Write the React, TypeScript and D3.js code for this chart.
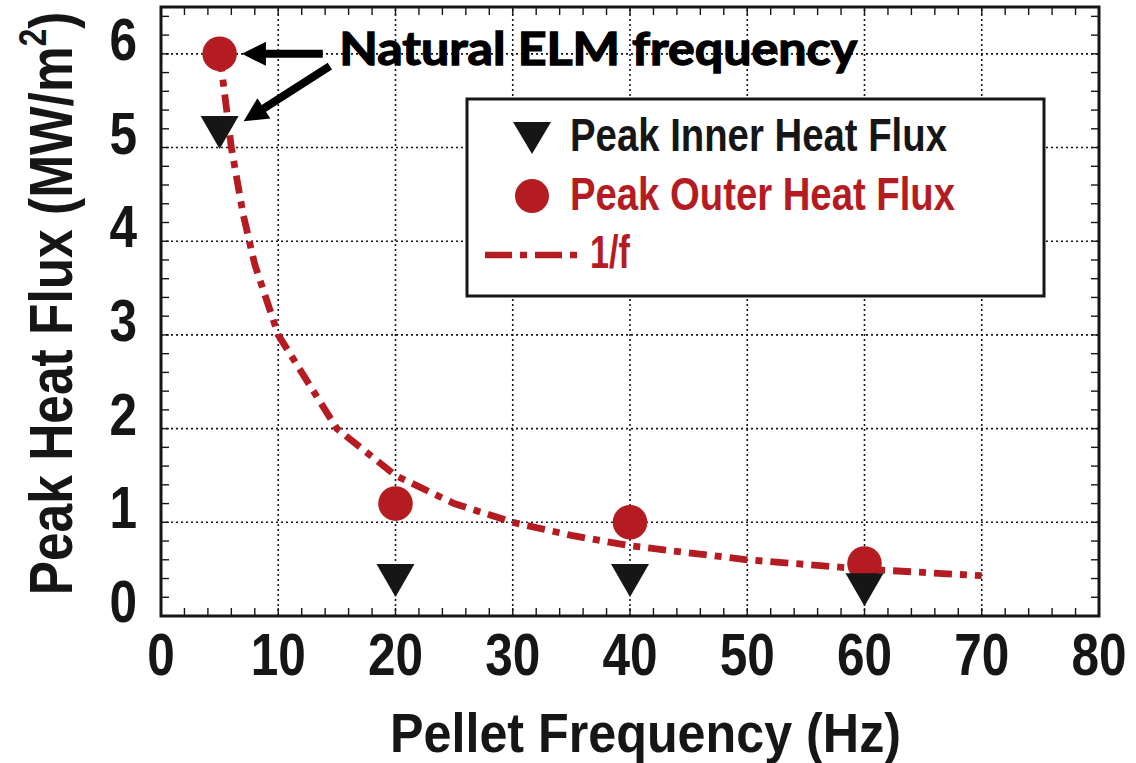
import React from "react";
import * as d3 from "d3";

// Pellet-pacing measurements: peak divertor heat flux vs pellet frequency
const pelletFreq = [5, 20, 40, 60];
const innerPeakFlux = [5.16, 0.38, 0.38, 0.28];
const outerPeakFlux = [6.0, 1.2, 1.0, 0.56];

// 1/f reference curve, sampled along its drawn path
const fitFreq = [5, 6, 7, 8, 10, 15, 20, 25, 30, 35, 40, 50, 60, 70];
const fitFlux = [6.0, 5.0, 4.29, 3.75, 3.0, 2.0, 1.5, 1.2, 1.0, 0.86, 0.75, 0.6, 0.5, 0.43];

const xTicks = [0, 10, 20, 30, 40, 50, 60, 70, 80];
const yTicks = [0, 1, 2, 3, 4, 5, 6];

// Annotation arrows pointing at the natural-ELM points (data units)
const elmArrows = [
  { from: [13.8, 6.0], to: [6.9, 6.0] },
  { from: [14.4, 5.87], to: [7.05, 5.28] },
];
const elmLabelAt = [15.2, 5.88];

const W = 1136;
const H = 763;
const RED = "#b51c21";
const INK = "#161616";
const SANS = "'Liberation Sans', Arial, sans-serif";

const x = d3.scaleLinear().domain([0, 80]).range([161, 1099]);
const y = d3.scaleLinear().domain([0, 6.5]).range([616, 7]);

function arrowPolygon(x1: number, y1: number, x2: number, y2: number, shaft: number, headLen: number, headW: number) {
  const dx = x2 - x1;
  const dy = y2 - y1;
  const len = Math.hypot(dx, dy);
  const ux = dx / len;
  const uy = dy / len;
  const px = -uy;
  const py = ux;
  const bx = x2 - ux * headLen;
  const by = y2 - uy * headLen;
  const pts = [
    [x1 + px * shaft / 2, y1 + py * shaft / 2],
    [bx + px * shaft / 2, by + py * shaft / 2],
    [bx + px * headW / 2, by + py * headW / 2],
    [x2, y2],
    [bx - px * headW / 2, by - py * headW / 2],
    [bx - px * shaft / 2, by - py * shaft / 2],
    [x1 - px * shaft / 2, y1 - py * shaft / 2],
  ];
  return "M" + pts.map((p) => p.join(",")).join("L") + "Z";
}

function triangleDown(cx: number, cy: number, w: number, h: number) {
  return `M${cx - w / 2},${cy - h / 2}L${cx + w / 2},${cy - h / 2}L${cx},${cy + h / 2}Z`;
}

export default function App() {
  const fitPoints: [number, number][] = fitFreq.map((f, i) => [f, fitFlux[i]]);
  const fitLine = d3
    .line<[number, number]>()
    .x((d) => x(d[0]))
    .y((d) => y(d[1]))
    .curve(d3.curveLinear)(fitPoints);

  const xMinor = d3.range(0, 80.001, 2);
  const yMinor = d3.range(0, 6.5, 0.2);
  const [x0, x1] = x.range();
  const [y0, y1] = y.range();
  const tickLen = 8;

  return (
    <svg
      width={W}
      height={H}
      viewBox={`0 0 ${W} ${H}`}
      style={{ position: "absolute", left: 0, top: 0, background: "#fff" }}
    >
      {/* grid */}
      <g stroke={INK} strokeWidth={1.6} strokeDasharray="2 3">
        {xTicks.slice(1, -1).map((t) => (
          <line key={"gx" + t} x1={x(t)} x2={x(t)} y1={y0} y2={y1} />
        ))}
        {yTicks.slice(1).map((t) => (
          <line key={"gy" + t} x1={x0} x2={x1} y1={y(t)} y2={y(t)} />
        ))}
      </g>

      {/* minor ticks on all four sides, pointing inward */}
      <g stroke={INK} strokeWidth={1.4}>
        {xMinor.map((t) => (
          <g key={"tx" + t}>
            <line x1={x(t)} x2={x(t)} y1={y0} y2={y0 - tickLen} />
            <line x1={x(t)} x2={x(t)} y1={y1} y2={y1 + tickLen} />
          </g>
        ))}
        {yMinor.map((t) => (
          <g key={"ty" + t}>
            <line x1={x0} x2={x0 + tickLen} y1={y(t)} y2={y(t)} />
            <line x1={x1} x2={x1 - tickLen} y1={y(t)} y2={y(t)} />
          </g>
        ))}
      </g>

      {/* frame */}
      <rect x={x0} y={y1} width={x1 - x0} height={y0 - y1} fill="none" stroke={INK} strokeWidth={3} />

      {/* tick labels */}
      <g fill={INK} fontFamily={SANS} fontWeight="bold" fontSize={59}>
        {xTicks.map((t) => (
          <text key={"lx" + t} transform={`translate(${x(t)},675) scale(0.84,1)`} textAnchor="middle">
            {t}
          </text>
        ))}
        {yTicks.map((t) => (
          <text key={"ly" + t} transform={`translate(137,${y(t) + 6}) scale(0.84,1)`} textAnchor="end">
            {t}
          </text>
        ))}
      </g>

      {/* axis titles */}
      <text
        x={645.5}
        y={752}
        textAnchor="middle"
        fill={INK}
        fontFamily={SANS}
        fontWeight="bold"
        fontSize={56}
        textLength={511}
        lengthAdjust="spacingAndGlyphs"
      >
        Pellet Frequency (Hz)
      </text>
      <g transform="translate(72,303.5) rotate(-90) scale(0.83,1)">
        <text textAnchor="middle" fill={INK} fontFamily={SANS} fontWeight="bold" fontSize={62}>
          Peak Heat Flux (MW/m
          <tspan fontSize={38} dy={-26}>2</tspan>
          <tspan dy={26}>)</tspan>
        </text>
      </g>

      {/* 1/f curve */}
      <path d={fitLine || ""} fill="none" stroke={RED} strokeWidth={6.8} strokeDasharray="18 8 7 8" />

      {/* outer heat flux */}
      {pelletFreq.map((f, i) => (
        <circle key={"o" + f} cx={x(f)} cy={y(outerPeakFlux[i])} r={17.3} fill={RED} />
      ))}

      {/* inner heat flux */}
      {pelletFreq.map((f, i) => (
        <path key={"i" + f} d={triangleDown(x(f), y(innerPeakFlux[i]), 38, 33)} fill={INK} />
      ))}

      {/* annotation */}
      {elmArrows.map((a, i) => (
        <path
          key={"arr" + i}
          d={arrowPolygon(x(a.from[0]), y(a.from[1]), x(a.to[0]), y(a.to[1]), 8, 24, 24)}
          fill="#000"
        />
      ))}
      <text
        x={x(elmLabelAt[0])}
        y={y(elmLabelAt[1])}
        fill="#000"
        stroke="#000"
        strokeWidth={1.3}
        fontFamily="Lato, 'DejaVu Sans', sans-serif"
        fontWeight="bold"
        fontSize={45}
        textLength={518}
        lengthAdjust="spacingAndGlyphs"
      >
        Natural ELM frequency
      </text>

      {/* legend */}
      <g>
        <rect x={467} y={99} width={577} height={197} fill="#fff" stroke={INK} strokeWidth={3} />
        <path d={triangleDown(532, 138, 38, 32)} fill={INK} />
        <text
          x={570}
          y={151}
          fill={INK}
          fontFamily={SANS}
          fontWeight="bold"
          fontSize={46.5}
          textLength={377}
          lengthAdjust="spacingAndGlyphs"
        >
          Peak Inner Heat Flux
        </text>
        <circle cx={532} cy={196} r={17} fill={RED} />
        <text
          x={570}
          y={210}
          fill={RED}
          fontFamily={SANS}
          fontWeight="bold"
          fontSize={46.5}
          textLength={385}
          lengthAdjust="spacingAndGlyphs"
        >
          Peak Outer Heat Flux
        </text>
        <line x1={485} x2={580} y1={255} y2={255} stroke={RED} strokeWidth={6.5} strokeDasharray="27 8 7 8" />
        <text
          x={590}
          y={268}
          fill={RED}
          fontFamily={SANS}
          fontWeight="bold"
          fontSize={46.5}
          textLength={40}
          lengthAdjust="spacingAndGlyphs"
        >
          1/f
        </text>
      </g>
    </svg>
  );
}
